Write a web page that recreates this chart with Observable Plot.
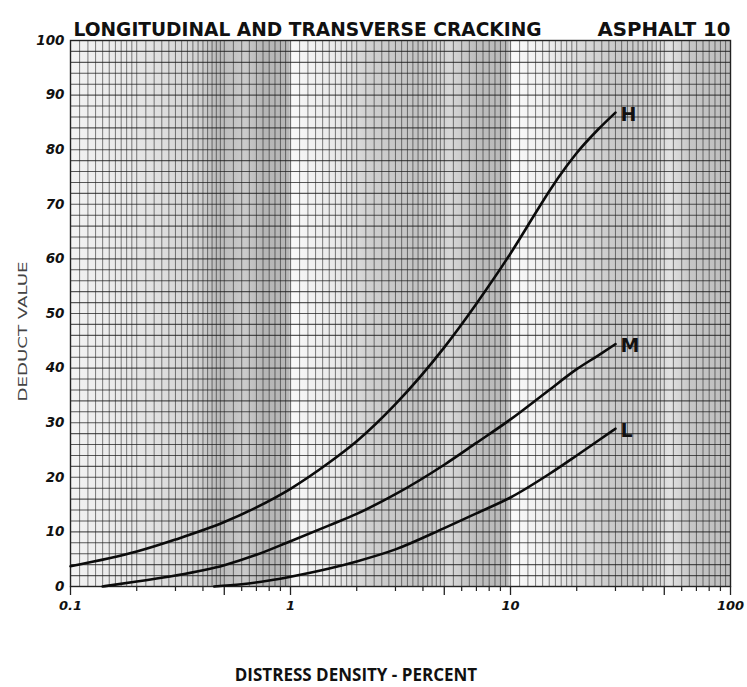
<!DOCTYPE html>
<html>
<head>
<meta charset="utf-8">
<script src="https://cdn.jsdelivr.net/npm/d3@7"></script>
<script src="https://cdn.jsdelivr.net/npm/@observablehq/plot@0.6"></script>
<style>
  html, body { margin: 0; padding: 0; background: #fff; }
  #wrap { position: relative; width: 747px; height: 687px; }
  #xlabel {
    position: absolute; left: 0; top: 663px; width: 712px; text-align: center;
    font-family: "Open Sans", "Liberation Sans", sans-serif; font-weight: 700; font-size: 17px;
    color: #111;
  }
</style>
</head>
<body>
<div id="wrap">
  <div id="chart"></div>
  <div id="xlabel">DISTRESS DENSITY - PERCENT</div>
</div>
<script>
// Deduct value curves for longitudinal and transverse cracking (asphalt),
// one curve per severity level: L (low), M (medium), H (high).
const hDensity = [0.1, 0.2, 0.3, 0.5, 0.7, 1, 1.5, 2, 3, 5, 7, 10, 13, 15, 18, 20, 25, 30];
const hDeduct  = [3.7, 6.4, 8.6, 11.8, 14.5, 17.9, 22.7, 26.6, 33.4, 43.8, 51.8, 61.0, 68.4, 72.4, 77.0, 79.4, 83.7, 86.8];

const mDensity = [0.14, 0.2, 0.3, 0.5, 0.7, 1, 1.5, 2, 3, 5, 7, 10, 15, 20, 25, 30];
const mDeduct  = [0, 0.9, 2.0, 3.9, 5.8, 8.3, 11.2, 13.3, 16.9, 22.3, 26.3, 30.6, 36.0, 39.8, 42.3, 44.4];

const lDensity = [0.45, 0.6, 0.8, 1, 1.5, 2, 3, 5, 7, 10, 15, 20, 25, 30];
const lDeduct  = [0, 0.4, 1.1, 1.8, 3.3, 4.6, 6.8, 10.7, 13.4, 16.3, 20.6, 24, 26.7, 28.9];

const severityLabels = ["H", "M", "L"];

// Axis tick labels
const xTickLabels = [0.1, 0.5, 1, 5, 10, 50, 100];
const yTickLabels = [0, 10, 20, 30, 40, 50, 60, 70, 80, 90, 100];

const titleLeft = "LONGITUDINAL AND TRANSVERSE CRACKING";
const titleRight = "ASPHALT 10";
const yTitle = "DEDUCT VALUE";

// Build a tidy table for the line mark
const series = [
  {key: "H", x: hDensity, y: hDeduct},
  {key: "M", x: mDensity, y: mDeduct},
  {key: "L", x: lDensity, y: lDeduct}
];
const rows = series.flatMap(s => s.x.map((x, i) => ({severity: s.key, density: x, deduct: s.y[i]})));
const ends = series.map((s, i) => ({label: severityLabels[i], density: s.x[s.x.length - 1], deduct: s.y[s.y.length - 1]}));

// Semi-log graph paper: fine vertical rulings in each decade
const decades = [0.1, 1, 10];
const xGrid = Array.from(new Set(decades.flatMap(d => [
  ...d3.range(1, 2, 0.1), ...d3.range(2, 5, 0.2), ...d3.range(5, 10.001, 0.5)
].map(v => +(v * d).toPrecision(4))))).filter(v => v >= 0.1 && v <= 100);
const yGrid = d3.range(0, 101, 2);

// Short tick marks under the axis at 2..9 of each decade
const xMinorTicks = decades.flatMap(d => d3.range(2, 10).map(v => +(v * d).toPrecision(4)))
  .filter(v => !xTickLabels.includes(v));

const lettering = "'DejaVu Sans', sans-serif";

const chart = Plot.plot({
  width: 747,
  height: 640,
  marginLeft: 70,
  marginRight: 17,
  marginTop: 40,
  marginBottom: 54,
  style: {background: "transparent", color: "#111"},
  x: {type: "log", domain: [0.1, 100], axis: null},
  y: {type: "linear", domain: [0, 100], axis: null},
  marks: [
    Plot.frame({fill: "url(#paper-bands)"}),
    Plot.ruleX(xGrid, {stroke: "#1a1a1a", strokeOpacity: 0.55, strokeWidth: 1}),
    Plot.ruleY(yGrid, {stroke: "#1a1a1a", strokeOpacity: 0.72, strokeWidth: 1.1}),
    Plot.frame({stroke: "#222", strokeWidth: 1.4}),
    // tick marks under the x axis
    Plot.axisX(xMinorTicks, {tickSize: 5, tickFormat: () => "", stroke: "#222", strokeWidth: 1.2, label: null}),
    Plot.axisX(xTickLabels, {tickSize: 9, tickPadding: 5, tickFormat: d => String(d), label: null,
      fontSize: 13, fontWeight: "bold", fontStyle: "italic", fontFamily: lettering, stroke: "#222", strokeWidth: 1.3}),
    Plot.axisY(yTickLabels, {tickSize: 0, tickPadding: 6, label: null,
      fontSize: 13.5, fontWeight: "bold", fontStyle: "italic", fontFamily: lettering}),
    // severity curves
    Plot.line(rows, {x: "density", y: "deduct", z: "severity", curve: "monotone-x",
      stroke: "#0b0b0b", strokeWidth: 2.6}),
    Plot.text(ends, {x: "density", y: "deduct", text: "label", textAnchor: "start", dx: 5, dy: 2,
      fontSize: 19, fontWeight: "bold", fontFamily: lettering, fill: "#111"}),
    // titles
    Plot.text([titleLeft], {frameAnchor: "top-left", dy: -19, dx: 3, textAnchor: "start",
      fontSize: 20, fontWeight: "bold", fontFamily: lettering, fill: "#111"}),
    Plot.text([titleRight], {frameAnchor: "top-right", dy: -19, dx: -133, textAnchor: "start",
      fontSize: 20, fontWeight: "bold", fontFamily: lettering, fill: "#111"}),
    Plot.text([yTitle], {frameAnchor: "left", rotate: -90, dx: -48, dy: 88, textAnchor: "start",
      fontSize: 13, fontFamily: lettering, fill: "#444"})
  ]
});

// Uneven grey shading of the printed graph paper, keyed to density
const bands = [
  [0.1, "#f2f2f2"], [0.2, "#e6e6e6"], [0.38, "#d2d2d2"], [0.47, "#bababa"], [0.62, "#cbcbcb"],
  [0.75, "#b6b6b6"], [0.98, "#b8b8b8"], [1.02, "#f8f8f8"], [1.7, "#e7e7e7"], [2.3, "#cfcfcf"],
  [3.9, "#c2c2c2"], [5.3, "#d8d8d8"], [6.9, "#bebebe"], [9.7, "#b9b9b9"], [10.2, "#fafafa"],
  [14.5, "#eeeeee"], [20.7, "#dadada"], [31, "#c8c8c8"], [43, "#cdcdcd"], [53, "#e2e2e2"],
  [66, "#c6c6c6"], [100, "#bebebe"]
];
const svg = d3.select(chart);
const grad = svg.insert("defs", ":first-child").append("linearGradient")
  .attr("id", "paper-bands").attr("x1", 0).attr("x2", 1).attr("y1", 0).attr("y2", 0);
grad.selectAll("stop").data(bands).join("stop")
  .attr("offset", d => (Math.log10(d[0]) + 1) / 3)
  .attr("stop-color", d => d[1]);

// Fit the lettering of the headings to their widths
svg.selectAll("text").filter(function () { return this.textContent === titleLeft; })
  .attr("textLength", 468).attr("lengthAdjust", "spacingAndGlyphs");
svg.selectAll("text").filter(function () { return this.textContent === titleRight; })
  .attr("textLength", 133).attr("lengthAdjust", "spacingAndGlyphs");
svg.selectAll("text").filter(function () { return this.textContent === yTitle; })
  .attr("textLength", 140).attr("lengthAdjust", "spacingAndGlyphs");

document.getElementById("chart").appendChild(chart);
</script>
</body>
</html>
